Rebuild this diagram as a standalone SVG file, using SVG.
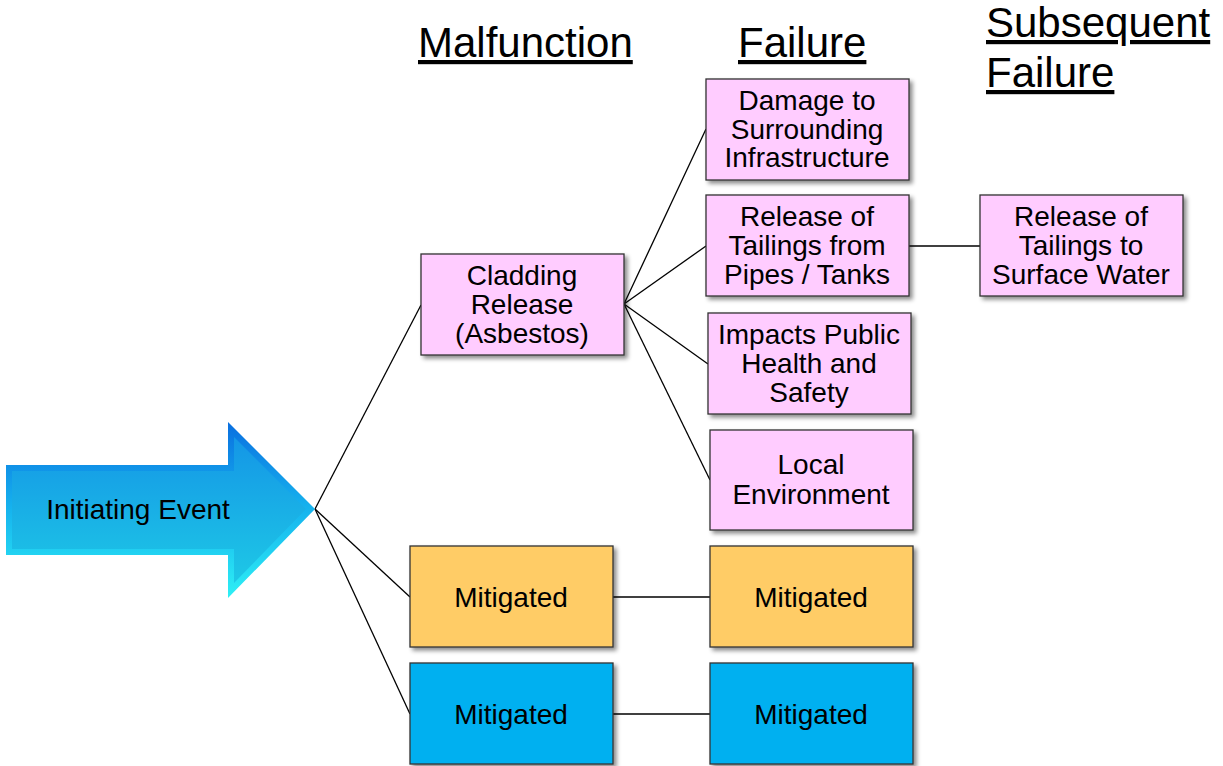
<svg xmlns="http://www.w3.org/2000/svg" width="1223" height="766" viewBox="0 0 1223 766">
  <style>
    .box { stroke: #333; stroke-width: 1.3; filter: url(#shadow); }
    .pink { fill: #FFCCFF; }
    .orange { fill: #FFCC66; }
    .blue { fill: #00B0F0; }
    .lbl { font-family: "Liberation Sans", Arial, sans-serif; font-size: 28px; fill: #000; text-anchor: middle; }
    .head { font-family: "Liberation Sans", Arial, sans-serif; font-size: 42px; fill: #000; text-decoration: underline; }
    .conn { stroke: #000; stroke-width: 1.3; fill: none; }
  </style>
  <defs>
    <filter id="shadow" x="-10%" y="-10%" width="130%" height="130%">
      <feDropShadow dx="3" dy="3" stdDeviation="2" flood-color="#000" flood-opacity="0.45"/>
    </filter>
    <linearGradient id="arrowOuter" x1="0" y1="0" x2="0" y2="1">
      <stop offset="0" stop-color="#0a6fe0"/>
      <stop offset="0.5" stop-color="#16b4ee"/>
      <stop offset="1" stop-color="#2ef0f5"/>
    </linearGradient>
    <linearGradient id="arrowInner" x1="0" y1="0" x2="0" y2="1">
      <stop offset="0" stop-color="#1496e6"/>
      <stop offset="1" stop-color="#1ec8e6"/>
    </linearGradient>
  </defs>

  <!-- column headings -->
  <g id="headings">
    <text class="head" x="418" y="57">Malfunction</text>
    <text class="head" x="738" y="57">Failure</text>
    <text class="head" x="986" y="37">Subsequent</text>
    <text class="head" x="986" y="87">Failure</text>
  </g>

  <!-- connectors -->
  <g id="connectors">
    <line class="conn" x1="315" y1="509" x2="421" y2="305"/>
    <line class="conn" x1="315" y1="509" x2="410" y2="597"/>
    <line class="conn" x1="315" y1="509" x2="410" y2="714"/>
    <line class="conn" x1="624" y1="304" x2="706" y2="129"/>
    <line class="conn" x1="624" y1="304" x2="706" y2="246"/>
    <line class="conn" x1="624" y1="304" x2="708" y2="364"/>
    <line class="conn" x1="624" y1="304" x2="710" y2="480"/>
    <line class="conn" x1="909" y1="246" x2="980" y2="246"/>
    <line class="conn" x1="613" y1="597" x2="710" y2="597"/>
    <line class="conn" x1="613" y1="714" x2="710" y2="714"/>
  </g>

  <!-- initiating event arrow -->
  <g id="initiating-event">
    <polygon points="6,465 228,465 228,422 315,509 228,598 228,555 6,555" fill="url(#arrowOuter)"/>
    <polygon points="12,471 234,471 234,437 306,509 234,583 234,549 12,549" fill="url(#arrowInner)"/>
    <text class="lbl" x="138" y="519">Initiating Event</text>
  </g>

  <g id="cladding-release">
    <rect class="box pink" x="421" y="254" width="203" height="101"/>
    <text class="lbl" x="522" y="285">Cladding</text>
    <text class="lbl" x="522" y="314">Release</text>
    <text class="lbl" x="522" y="343">(Asbestos)</text>
  </g>

  <g id="damage-infrastructure">
    <rect class="box pink" x="706" y="79" width="203" height="101"/>
    <text class="lbl" x="807" y="110">Damage to</text>
    <text class="lbl" x="807" y="139">Surrounding</text>
    <text class="lbl" x="807" y="167">Infrastructure</text>
  </g>

  <g id="release-pipes-tanks">
    <rect class="box pink" x="706" y="195" width="203" height="101"/>
    <text class="lbl" x="807" y="226">Release of</text>
    <text class="lbl" x="807" y="255">Tailings from</text>
    <text class="lbl" x="807" y="284">Pipes / Tanks</text>
  </g>

  <g id="release-surface-water">
    <rect class="box pink" x="980" y="195" width="203" height="101"/>
    <text class="lbl" x="1081" y="226">Release of</text>
    <text class="lbl" x="1081" y="255">Tailings to</text>
    <text class="lbl" x="1081" y="284">Surface Water</text>
  </g>

  <g id="public-health">
    <rect class="box pink" x="708" y="313" width="203" height="101"/>
    <text class="lbl" x="809" y="344">Impacts Public</text>
    <text class="lbl" x="809" y="373">Health and</text>
    <text class="lbl" x="809" y="402">Safety</text>
  </g>

  <g id="local-environment">
    <rect class="box pink" x="710" y="430" width="203" height="100"/>
    <text class="lbl" x="811" y="474">Local</text>
    <text class="lbl" x="811" y="504">Environment</text>
  </g>

  <g id="mitigated-orange-1">
    <rect class="box orange" x="410" y="546" width="203" height="101"/>
    <text class="lbl" x="511" y="607">Mitigated</text>
  </g>

  <g id="mitigated-orange-2">
    <rect class="box orange" x="710" y="546" width="203" height="101"/>
    <text class="lbl" x="811" y="607">Mitigated</text>
  </g>

  <g id="mitigated-blue-1">
    <rect class="box blue" x="410" y="663" width="203" height="101"/>
    <text class="lbl" x="511" y="724">Mitigated</text>
  </g>

  <g id="mitigated-blue-2">
    <rect class="box blue" x="710" y="663" width="203" height="101"/>
    <text class="lbl" x="811" y="724">Mitigated</text>
  </g>
</svg>
